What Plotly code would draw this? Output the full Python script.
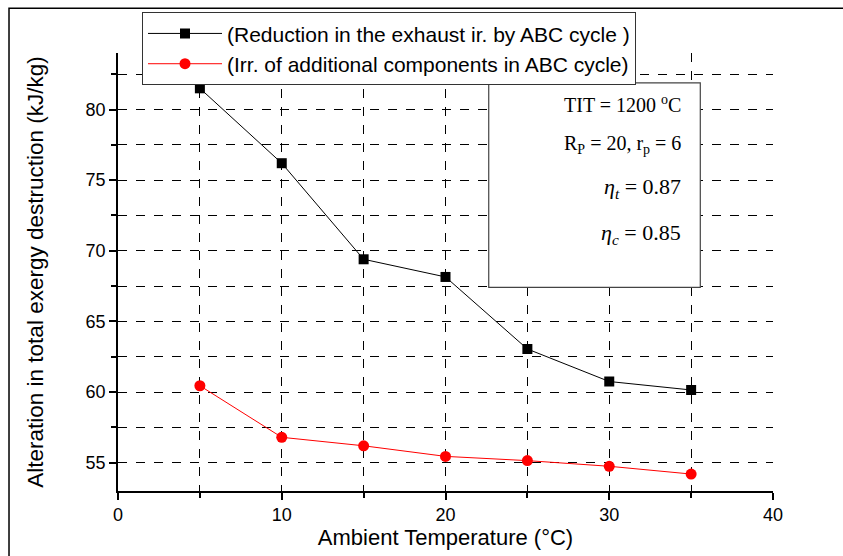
import plotly.graph_objects as go

temps = [5, 10, 15, 20, 25, 30, 35]
reduction_exhaust = [81.5, 76.2, 69.4, 68.15, 63.05, 60.75, 60.15]
irr_additional = [60.45, 56.8, 56.2, 55.45, 55.15, 54.75, 54.2]
series_names = ["(Reduction in the exhaust ir. by ABC cycle )",
                "(Irr. of additional components in ABC cycle)"]
info_lines = ["TIT = 1200 <sup>o</sup>C",
              "R<sub>P</sub> = 20, r<sub>p</sub> = 6",
              "<i>η<sub>t</sub></i> = 0.87",
              "<i>η<sub>c</sub></i> = 0.85"]

fig = go.Figure()
fig.add_trace(go.Scatter(x=temps, y=reduction_exhaust, mode="lines+markers",
                         name=series_names[0],
                         line=dict(color="black", width=1),
                         marker=dict(symbol="square", size=10, color="black")))
fig.add_trace(go.Scatter(x=temps, y=irr_additional, mode="lines+markers",
                         name=series_names[1],
                         line=dict(color="red", width=1),
                         marker=dict(symbol="circle", size=11, color="red")))

axis_common = dict(showline=True, linecolor="black", linewidth=1.5,
                   ticks="outside", ticklen=7, tickcolor="black", tickwidth=1.5,
                   showgrid=True, gridcolor="black", gridwidth=1, griddash="dash",
                   zeroline=False, mirror=False,
                   tickfont=dict(family="Liberation Sans, Arial", size=18, color="black"))

fig.update_xaxes(range=[0, 40], dtick=10, tick0=0,
                 minor=dict(dtick=5, ticks="outside", ticklen=5, tickcolor="black",
                            showgrid=True, gridcolor="black", griddash="dash", gridwidth=1),
                 title=dict(text="Ambient Temperature (°C)", standoff=4,
                            font=dict(family="Liberation Sans, Arial", size=22, color="black")),
                 **axis_common)
fig.update_yaxes(range=[53, 84], dtick=5, tick0=55,
                 minor=dict(dtick=2.5, tick0=55, ticks="outside", ticklen=5, tickcolor="black",
                            showgrid=True, gridcolor="black", griddash="dash", gridwidth=1),
                 title=dict(text="Alteration in total exergy destruction (kJ/kg)", standoff=36,
                            font=dict(family="Liberation Sans, Arial", size=22.5, color="black")),
                 **axis_common)

shapes = [
    # info box
    dict(type="rect", xref="paper", yref="paper", x0=0.566, x1=0.889, y0=0.465, y1=0.932,
         line=dict(color="#444", width=1.2), fillcolor="white", layer="above"),
    # outer frame
    dict(type="rect", xref="paper", yref="paper", x0=-0.1664, x1=1.3, y0=-0.4, y1=1.102,
         line=dict(color="black", width=1.5), fillcolor="rgba(0,0,0,0)", layer="above"),
]
annotations = []
ys_px = [101, 142, 186, 232]
sizes = [20, 20, 22, 22]
for txt, ypx, sz in zip(info_lines, ys_px, sizes):
    annotations.append(dict(text=txt, xref="paper", yref="paper",
                            x=(683 - 118) / 655, y=(491 - ypx) / 441,
                            xanchor="right", yanchor="middle", showarrow=False,
                            font=dict(family="Liberation Serif, Times New Roman", size=sz, color="black")))

fig.update_layout(
    width=843, height=556,
    margin=dict(l=118, r=70, t=50, b=65),
    paper_bgcolor="white", plot_bgcolor="white",
    showlegend=True,
    legend=dict(x=(142 - 118) / 655, y=(491 - 9) / 441, xanchor="left", yanchor="top",
                bgcolor="white", bordercolor="#333", borderwidth=1,
                font=dict(family="Liberation Sans, Arial", size=21, color="black"),
                tracegroupgap=0, itemwidth=74),
    shapes=shapes, annotations=annotations,
)

fig.write_html("out.html")
